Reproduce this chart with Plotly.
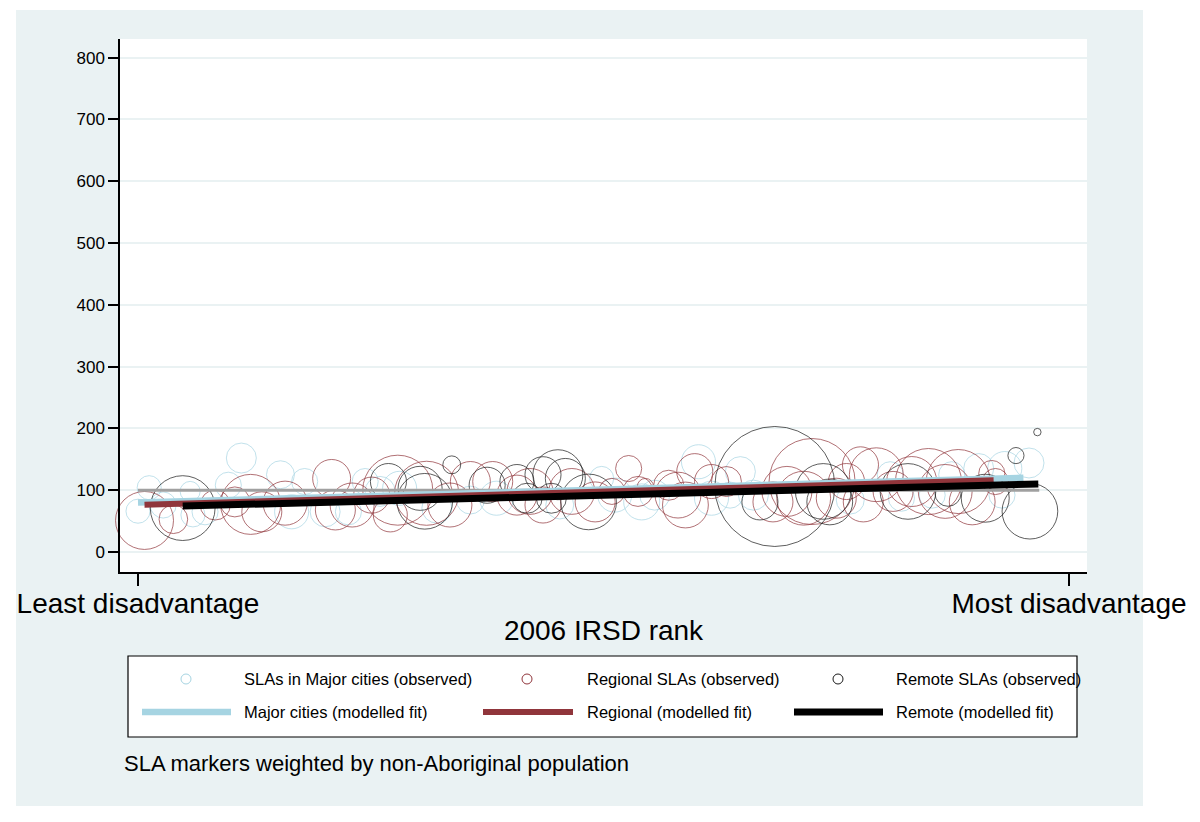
import plotly.graph_objects as go

# ---------------- data ----------------
# Observed SLAs: IRSD rank (percentile, 0 = least, 100 = most disadvantage), ratio, non-Aboriginal population (thousands)
maj_rank = [1.2, 0.0, 2.7, 5.6, 5.9, 11.1, 9.7, 15.3, 17.9, 16.5, 20.1, 22.6, 7.2, 24.4, 26.0, 28.1,
            32.1, 35.7, 38.5, 45.3, 49.8, 51.2, 54.1, 55.5, 60.2, 61.6, 63.6, 64.7, 66.1, 76.5,
            80.8, 82.0, 85.3, 87.4, 90.3, 92.8, 93.1, 95.7]
maj_ratio = [104, 66, 76, 98, 60, 152, 108, 125, 114, 65, 65, 65, 65, 114, 98, 103,
             71, 84, 87, 76, 119, 92, 81, 92, 146, 87, 92, 130, 92, 84,
             125, 87, 92, 125, 135, 92, 135, 144]
maj_pop = [5.8, 5.8, 6.8, 4.0, 5.8, 9.0, 6.8, 7.8, 6.8, 11.6, 9.0, 6.8, 6.8, 6.8, 9.0, 11.6,
           9.0, 7.8, 11.6, 7.8, 5.8, 11.6, 13.0, 9.0, 11.6, 11.6, 6.8, 9.0, 9.0, 7.8,
           6.8, 6.8, 6.8, 6.8, 9.0, 6.8, 11.6, 9.0]

reg_rank = [0.7, 3.8, 8.3, 10.4, 12.1, 13.3, 15.8, 20.8, 21.2, 23.0, 25.1, 27.1, 27.9, 31.0,
            33.5, 35.7, 38.1, 40.7, 42.1, 43.5, 46.6, 49.1, 50.9, 52.7, 53.7, 54.5, 57.0,
            58.0, 58.8, 59.8, 61.6, 63.2, 68.2, 69.7, 71.5, 72.4, 75.0, 76.1, 77.6, 77.9,
            79.3, 81.1, 83.1, 84.9, 86.7, 88.1, 89.6, 91.7, 92.1]
reg_ratio = [51, 53, 76, 81, 77, 65, 79, 119, 68, 76, 92, 60, 100, 95,
             76, 114, 114, 92, 98, 76, 98, 81, 98, 135, 98, 106, 108,
             92, 76, 130, 114, 114, 81, 98, 87, 114, 87, 114, 141, 81,
             125, 98, 114, 114, 98, 114, 81, 127, 114]
reg_pop = [33.6, 8.2, 9.0, 9.0, 36.0, 16.0, 19.4, 14.4, 16.0, 19.4, 13.0, 11.6, 49.0, 41.0,
           19.4, 16.0, 16.0, 16.0, 21.0, 13.0, 21.0, 16.0, 6.8, 6.8, 9.0, 2.6, 9.0,
           21.0, 21.0, 13.0, 11.6, 9.0, 16.0, 25.0, 29.0, 74.0, 16.0, 13.0, 13.0, 16.0,
           29.0, 16.0, 25.0, 43.6, 29.0, 41.0, 21.0, 6.8, 6.8]

rem_rank = [4.8, 26.9, 30.3, 30.8, 33.7, 37.5, 40.7, 41.8, 43.5, 44.4, 45.1, 45.9, 48.4,
            66.8, 68.4, 73.6, 74.3, 82.7, 87.0, 91.0, 94.3, 95.8, 96.6]
rem_ratio = [71, 114, 103, 82, 141, 108, 114, 87, 125, 87, 125, 119, 81,
             81, 106, 98, 81, 98, 95, 87, 156, 66, 194]
rem_pop = [42.0, 13.0, 19.4, 31.0, 3.2, 13.0, 11.6, 9.0, 13.0, 9.0, 25.0, 16.0, 31.0,
           13.0, 144.0, 31.0, 21.0, 31.0, 6.8, 23.0, 2.6, 31.0, 0.55]

# Modelled fits (end points)
maj_fit_rank = [0.0, 95.1]
maj_fit_ratio = [80, 120]
reg_fit_rank = [0.7, 91.9]
reg_fit_ratio = [76.5, 116]
rem_fit_rank = [4.8, 96.7]
rem_fit_ratio = [74.4, 110]
ref_rank = [0.0, 96.8]
ref_ratio = [100, 100]

y_ticks = [0, 100, 200, 300, 400, 500, 600, 700, 800]
x_tickvals = [0, 100]
x_ticktext = ["Least disadvantage", "Most disadvantage"]

legend_labels = ["SLAs in Major cities (observed)", "Regional SLAs (observed)", "Remote SLAs (observed)",
                 "Major cities (modelled fit)", "Regional (modelled fit)", "Remote (modelled fit)"]
note_text = "SLA markers weighted by non-Aboriginal population"

# ---------------- styles ----------------
C_MAJ = "#A6D4E2"
C_REG = "#90353B"
C_REM = "#000000"
C_REF = "#A0A0A0"
BG = "#EAF2F3"
FONT = "Liberation Sans, Arial, Helvetica, sans-serif"
SIZEREF = 0.02

W, H = 1200, 822
L, R, T, B = 120, 113, 39, 250
PW, PH = W - L - R, H - T - B


def px(xp):
    return (xp - L) / PW


def py(yp):
    return (H - B - yp) / PH


fig = go.Figure()

for xs, ys, ps, col, name in [(maj_rank, maj_ratio, maj_pop, C_MAJ, legend_labels[0]),
                              (reg_rank, reg_ratio, reg_pop, C_REG, legend_labels[1]),
                              (rem_rank, rem_ratio, rem_pop, "#1a1a1a", legend_labels[2])]:
    fig.add_trace(go.Scatter(
        x=xs, y=ys, mode="markers", name=name, showlegend=False, cliponaxis=False,
        marker=dict(symbol="circle-open", size=ps, sizemode="area", sizeref=SIZEREF,
                    color=col, line=dict(width=1, color=col)),
    ))

fig.add_trace(go.Scatter(x=ref_rank, y=ref_ratio, mode="lines", showlegend=False,
                         line=dict(color=C_REF, width=3)))
for xs, ys, col, wd, name in [(maj_fit_rank, maj_fit_ratio, C_MAJ, 6.5, legend_labels[3]),
                              (reg_fit_rank, reg_fit_ratio, C_REG, 6, legend_labels[4]),
                              (rem_fit_rank, rem_fit_ratio, C_REM, 7, legend_labels[5])]:
    fig.add_trace(go.Scatter(x=xs, y=ys, mode="lines", name=name, showlegend=False,
                             line=dict(color=col, width=wd)))

shapes = []
# graph region background
shapes.append(dict(type="rect", xref="paper", yref="paper", x0=px(16), x1=px(1143), y0=py(806), y1=py(10),
                   fillcolor=BG, line=dict(width=0), layer="below"))
# plot region (white)
shapes.append(dict(type="rect", xref="paper", yref="paper", x0=0, x1=1, y0=0, y1=1,
                   fillcolor="white", line=dict(width=0), layer="below"))
# legend box
shapes.append(dict(type="rect", xref="paper", yref="paper", x0=px(128), x1=px(1077), y0=py(737), y1=py(656),
                   fillcolor="white", line=dict(color="black", width=1.2)))
annotations = []
row1, row2 = 679, 712
mk_x = [186, 527, 838]
lab_x = [242, 585, 894]
line_x = [(142, 231), (483, 573), (794, 883)]
cols = [C_MAJ, C_REG, C_REM]
mk_cols = [C_MAJ, C_REG, "#1a1a1a"]
wds = [6.5, 6, 7]
for i in range(3):
    r = 5
    shapes.append(dict(type="circle", xref="paper", yref="paper",
                       x0=px(mk_x[i] - r), x1=px(mk_x[i] + r), y0=py(row1 + r), y1=py(row1 - r),
                       line=dict(color=mk_cols[i], width=1)))
    shapes.append(dict(type="line", xref="paper", yref="paper",
                       x0=px(line_x[i][0]), x1=px(line_x[i][1]), y0=py(row2), y1=py(row2),
                       line=dict(color=cols[i], width=wds[i])))
    annotations.append(dict(xref="paper", yref="paper", x=px(lab_x[i]), y=py(row1), text=legend_labels[i],
                            showarrow=False, xanchor="left", yanchor="middle",
                            font=dict(size=16.5, color="black", family=FONT)))
    annotations.append(dict(xref="paper", yref="paper", x=px(lab_x[i]), y=py(row2), text=legend_labels[i + 3],
                            showarrow=False, xanchor="left", yanchor="middle",
                            font=dict(size=16.5, color="black", family=FONT)))
annotations.append(dict(xref="paper", yref="paper", x=px(122), y=py(763), text=note_text,
                        showarrow=False, xanchor="left", yanchor="middle",
                        font=dict(size=22, color="black", family=FONT)))

fig.update_layout(
    width=W, height=H,
    margin=dict(l=L, r=R, t=T, b=B),
    paper_bgcolor="white", plot_bgcolor="white",
    font=dict(family=FONT, color="black"),
    shapes=shapes, annotations=annotations,
    showlegend=False,
    xaxis=dict(range=[-1.933, 101.93], tickvals=x_tickvals, ticktext=x_ticktext,
               showgrid=False, zeroline=False, showline=True, linecolor="black", linewidth=1.5,
               ticks="outside", ticklen=12, tickwidth=1.5, tickcolor="black", ticklabelstandoff=-6,
               tickfont=dict(size=28, family=FONT, color="black"),
               title=dict(text="2006 IRSD rank", font=dict(size=28, family=FONT, color="black"), standoff=2)),
    yaxis=dict(range=[-32.4, 830.1], tickvals=y_ticks, showgrid=True, gridcolor=BG, gridwidth=2,
               zeroline=False, showline=True, linecolor="black", linewidth=1.5,
               ticks="outside", ticklen=10, tickwidth=1.5, tickcolor="black",
               tickfont=dict(size=17, family=FONT, color="black")),
)

fig.write_html("out.html", config={"displayModeBar": False},
               post_script="document.body.style.margin='0';")
